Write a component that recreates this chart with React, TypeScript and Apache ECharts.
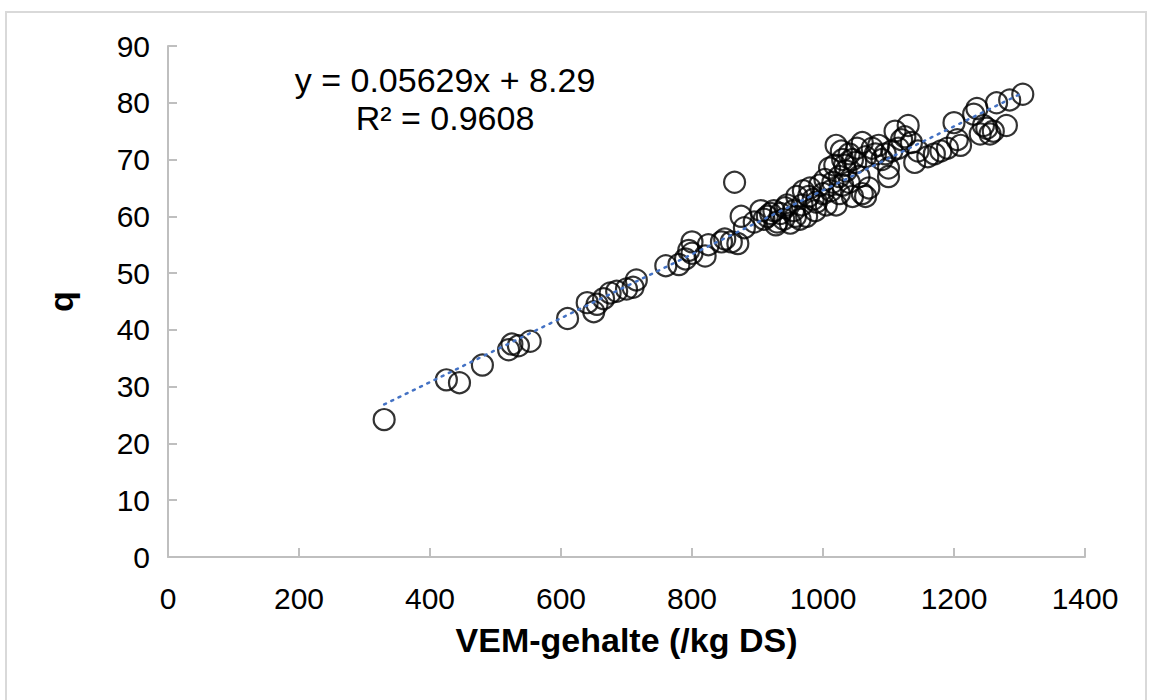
import React, { useEffect, useRef } from "react";
import * as echarts from "echarts";

const xTickLabels = ["0", "200", "400", "600", "800", "1000", "1200", "1400"];
const yTickLabels = ["0", "10", "20", "30", "40", "50", "60", "70", "80", "90"];

const vem: number[] = [
  330, 425, 445, 480, 520, 525, 535, 553, 610, 640, 650, 655, 665, 675, 685, 700, 710, 715,
  760, 780, 790, 795, 800, 800, 820, 825, 845, 850, 860, 865, 870, 875, 880, 895, 905, 910,
  915, 920, 925, 928, 930, 935, 940, 942, 945, 950, 955, 958, 960, 965, 968, 970, 975, 978,
  980, 985, 988, 990, 995, 1000, 1003, 1005, 1010, 1012, 1015, 1018, 1020, 1020, 1025, 1025,
  1028, 1030, 1030, 1033, 1035, 1040, 1040, 1045, 1045, 1050, 1052, 1055, 1060, 1060, 1065,
  1065, 1070, 1075, 1080, 1085, 1090, 1095, 1100, 1100, 1105, 1110, 1115, 1120, 1125, 1130,
  1135, 1140, 1145, 1160, 1170, 1180, 1190, 1200, 1205, 1210, 1230, 1235, 1240, 1245, 1250,
  1255, 1260, 1265, 1280, 1285, 1305,
];
const qValues: number[] = [
  24.2, 31.2, 30.7, 33.8, 36.5, 37.5, 37.2, 38, 42, 44.8, 43.2, 44.5, 45.5, 46.5, 46.8, 47.2, 47.5, 48.8,
  51.3, 51.5, 52.5, 54, 55.5, 53.5, 53, 55, 55.5, 56, 55.5, 66, 55.2, 60, 58, 59, 61, 59.5,
  60, 60.5, 61, 58.5, 59, 60.5, 59.5, 61.5, 62, 58.8, 61, 60, 63.5, 59.5, 62, 64.5, 60, 63.5,
  65, 63, 61, 62.5, 65.5, 64, 66.5, 62, 68.5, 64.5, 66, 69, 72.5, 62, 67, 64,
  71.5, 70, 65.5, 69, 68, 71, 66, 63.5, 70, 69.5, 72, 67, 73, 64, 63.5,
  70.5, 65, 72, 71, 72.5, 70, 71, 67, 68.5, 71.5, 75, 72, 73.5, 74, 76,
  73, 69.5, 71.5, 70.5, 71, 71.5, 72, 76.5, 73.5, 72.5, 78, 79, 74.5, 76, 75.5,
  74.5, 75, 80, 76, 80.5, 81.5,
];

const trendSlope = 0.05629;
const trendIntercept = 8.29;
const trendR2 = "0.9608";
const trendStartX = 330;
const trendEndX = 1305;

export default function App() {
  const ref = useRef<HTMLDivElement>(null);
  useEffect(() => {
    if (!ref.current) return;
    const chart = echarts.init(ref.current, undefined, { renderer: "svg" });
    const points = vem.map((x, i) => [x, qValues[i]]);
    const trend = [trendStartX, trendEndX].map((x) => [x, trendSlope * x + trendIntercept]);
    const font = "'Liberation Sans', Arial, sans-serif";
    chart.setOption({
      animation: false,
      backgroundColor: "#ffffff",
      textStyle: { fontFamily: font },
      grid: { left: 168, right: 66, top: 46, bottom: 143, containLabel: false },
      xAxis: {
        type: "value",
        min: 0,
        max: 1400,
        interval: 200,
        name: "VEM-gehalte (/kg DS)",
        nameLocation: "middle",
        nameGap: 66,
        nameTextStyle: { fontSize: 34, fontWeight: "bold", color: "#000", fontFamily: font },
        axisLine: { show: true, lineStyle: { color: "#bfbfbf", width: 2 } },
        axisTick: { show: true, inside: true, length: 9, lineStyle: { color: "#bfbfbf", width: 2 } },
        splitLine: { show: false },
        axisLabel: {
          fontSize: 30,
          color: "#000",
          margin: 26,
          fontFamily: font,
          formatter: (v: number) => xTickLabels[Math.round(v / 200)] ?? String(v),
        },
      },
      yAxis: {
        type: "value",
        min: 0,
        max: 90,
        interval: 10,
        name: "q",
        nameLocation: "middle",
        nameGap: 90,
        nameRotate: 90,
        nameTextStyle: { fontSize: 34, fontWeight: "bold", color: "#000", fontFamily: font },
        axisLine: { show: true, lineStyle: { color: "#bfbfbf", width: 2 } },
        axisTick: { show: true, inside: true, length: 9, lineStyle: { color: "#bfbfbf", width: 2 } },
        splitLine: { show: false },
        axisLabel: {
          fontSize: 30,
          color: "#000",
          margin: 18,
          fontFamily: font,
          formatter: (v: number) => yTickLabels[Math.round(v / 10)] ?? String(v),
        },
      },
      graphic: [
        {
          type: "rect",
          silent: true,
          shape: { x: 6, y: 12, width: 1140, height: 700 },
          style: { fill: "none", stroke: "#d9d9d9", lineWidth: 2 },
        },
        {
          type: "text",
          x: 445,
          y: 80,
          style: {
            text: `y = ${trendSlope}x + ${trendIntercept}`,
            fontSize: 34,
            fontFamily: font,
            fill: "#000",
            align: "center",
            verticalAlign: "middle",
          },
        },
        {
          type: "text",
          x: 445,
          y: 118,
          style: {
            text: `R² = ${trendR2}`,
            fontSize: 34,
            fontFamily: font,
            fill: "#000",
            align: "center",
            verticalAlign: "middle",
          },
        },
      ],
      series: [
        {
          type: "line",
          data: trend,
          symbol: "none",
          lineStyle: { color: "#4472C4", width: 2.5, type: [2, 6], cap: "round" },
          z: 3,
        },
        {
          type: "scatter",
          data: points,
          symbol: "circle",
          symbolSize: 21,
          itemStyle: { color: "rgba(0,0,0,0)", borderColor: "#000", borderWidth: 2.2 },
          z: 2,
        },
      ],
    });
    return () => chart.dispose();
  }, []);
  return (
    <div
      ref={ref}
      style={{ position: "absolute", left: 0, top: 0, width: 1151, height: 700 }}
    />
  );
}
